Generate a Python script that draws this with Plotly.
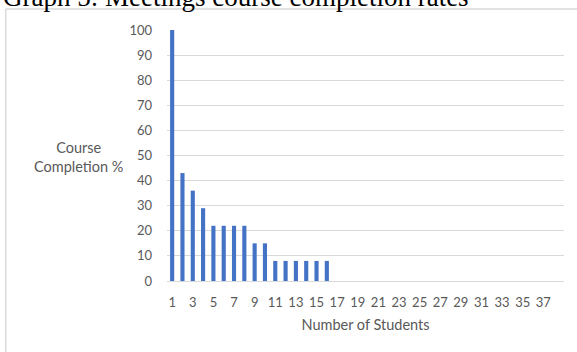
import plotly.graph_objects as go

# Number of students per meeting group and the share who completed the course
students = list(range(1, 39))
completion = [100, 43, 36, 29, 22, 22, 22, 22, 15, 15, 8, 8, 8, 8, 8, 8] + [None] * 22
tick_labels = [str(n) for n in students if n % 2 == 1]

W, H = 577, 352
L, R, T, B = 166.5, 564, 30, 281  # plot area in pixels


def px(x):
    return (x - L) / (R - L)


def py(y):
    return (B - y) / (B - T)


fig = go.Figure(
    go.Bar(
        x=students,
        y=completion,
        width=0.4,
        marker=dict(color="#4472C4", line=dict(width=0)),
    )
)

family = "Lato, Open Sans, sans-serif"
grey = "#595959"
tick_font = dict(family=family, size=13, color=grey)
title_font = dict(family=family, size=14.5, color=grey)

fig.update_layout(
    width=W,
    height=H,
    margin=dict(l=L, r=W - R, t=T, b=H - B, pad=0),
    paper_bgcolor="white",
    plot_bgcolor="white",
    showlegend=False,
    xaxis=dict(
        range=[0.5, 39.0],
        tickmode="array",
        tickvals=[n for n in students if n % 2 == 1],
        ticktext=tick_labels,
        showgrid=False,
        zeroline=False,
        showline=False,
        ticks="",
        ticklabelstandoff=12,
        tickfont=tick_font,
        title=dict(text="Number of Students", font=title_font, standoff=10),
    ),
    yaxis=dict(
        range=[0, 100],
        dtick=10,
        showgrid=True,
        gridcolor="#d9d9d9",
        gridwidth=1,
        zeroline=True,
        zerolinecolor="#d9d9d9",
        zerolinewidth=1,
        showline=False,
        ticks="",
        ticklabelstandoff=14,
        tickfont=tick_font,
    ),
)

# Horizontal two-line y-axis title
fig.add_annotation(
    text="Course<br>Completion %",
    xref="paper", yref="paper",
    x=px(78), y=py(157),
    xanchor="center", yanchor="middle",
    showarrow=False,
    font=title_font,
)

# Document caption above the chart frame
fig.add_annotation(
    text="Graph 5: Meetings course completion rates",
    xref="paper", yref="paper",
    x=px(0), y=py(-3),
    xanchor="left", yanchor="middle",
    showarrow=False,
    font=dict(family="Liberation Serif, Times New Roman, serif", size=27, color="black"),
)

# Chart frame (left and top edges)
fig.add_shape(type="line", xref="paper", yref="paper",
              x0=px(5), x1=px(5), y0=py(9), y1=py(H + 5),
              line=dict(color="#d9d9d9", width=1.5))
fig.add_shape(type="line", xref="paper", yref="paper",
              x0=px(5), x1=px(W + 5), y0=py(9), y1=py(9),
              line=dict(color="#d9d9d9", width=1.5))

fig.write_html("out.html")
